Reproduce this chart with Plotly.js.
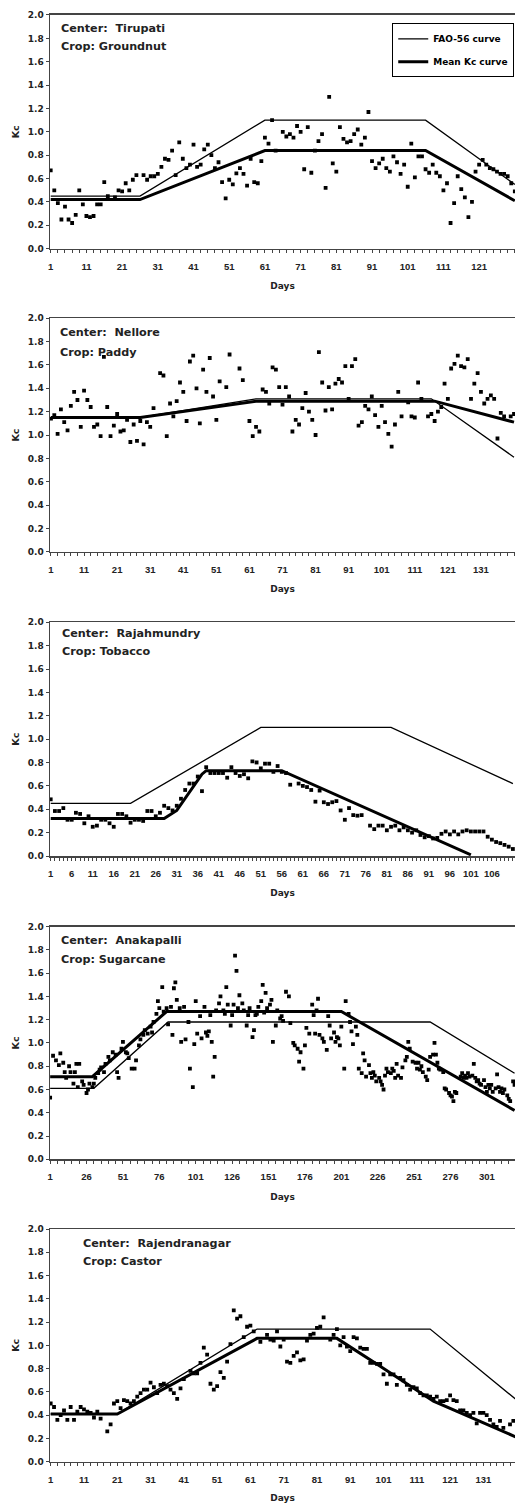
<!DOCTYPE html>
<html><head><meta charset="utf-8">
<script src="https://cdn.plot.ly/plotly-3.0.1.min.js"></script>
<style>html,body{margin:0;padding:0;background:#fff}#chart{width:515px;height:1503px}</style>
</head><body><div id="chart"></div>
<script>
// ---------------- DATA ----------------
const centers = ['Tirupati', 'Nellore', 'Rajahmundry', 'Anakapalli', 'Rajendranagar'];
const crops = ['Groundnut', 'Paddy', 'Tobacco', 'Sugarcane', 'Castor'];
const legendNames = ['FAO-56 curve', 'Mean Kc curve'];

// Tirupati – Groundnut
const tirDays = [1,2,3,4,5,6,7,8,9,10,11,12,13,14,15,16,17,19,20,21,22,23,24,25,27,28,29,30,31,32,33,34,35,36,37,38,39,40,41,42,43,44,45,46,47,48,49,50,51,52,53,54,55,56,57,58,59,60,61,62,63,64,66,67,68,69,70,71,72,73,74,75,76,77,78,79,80,81,82,83,84,85,86,87,88,89,90,91,92,93,94,95,96,97,98,99,100,101,102,103,104,105,106,107,108,109,110,111,112,113,114,115,116,117,118,119,120,121,122,123,124,125,126,127,128,129,130,131];
const tirKc = [0.67,0.50,0.39,0.25,0.36,0.25,0.22,0.29,0.50,0.38,0.28,0.27,0.28,0.38,0.38,0.57,0.45,0.44,0.50,0.49,0.56,0.50,0.59,0.63,0.63,0.59,0.62,0.62,0.64,0.70,0.77,0.76,0.84,0.63,0.91,0.77,0.69,0.72,0.89,0.70,0.72,0.85,0.89,0.80,0.69,0.74,0.57,0.43,0.59,0.55,0.645,0.69,0.64,0.54,0.77,0.57,0.56,0.75,0.95,0.90,1.10,0.84,1.00,0.96,0.98,0.95,1.05,1.00,0.68,1.04,0.65,0.84,0.92,0.98,0.52,1.30,0.73,0.66,1.04,0.94,0.91,0.92,0.98,1.02,0.89,0.95,1.17,0.75,0.69,0.73,0.77,0.69,0.66,0.79,0.74,0.64,0.72,0.53,0.90,0.61,0.79,0.79,0.68,0.65,0.72,0.65,0.62,0.50,0.56,0.22,0.39,0.62,0.51,0.44,0.27,0.40,0.66,0.72,0.76,0.72,0.69,0.68,0.66,0.64,0.64,0.62,0.56,0.49];
const tirFaoDays = [1, 26, 61, 106, 131];
const tirFaoKc = [0.45, 0.45, 1.10, 1.10, 0.55];
const tirMeanDays = [1, 26, 61, 106, 131];
const tirMeanKc = [0.42, 0.42, 0.84, 0.84, 0.41];

// Nellore – Paddy
const nelDays = [1,2,3,4,5,6,7,8,9,10,11,12,13,14,15,16,17,18,19,20,21,22,23,24,25,26,27,28,29,30,31,32,34,35,36,37,38,39,40,41,42,43,44,45,46,47,48,49,50,51,52,54,55,58,59,61,62,63,64,65,66,67,68,69,70,71,72,73,74,75,76,77,78,79,80,81,82,83,84,85,86,87,88,89,90,91,92,93,94,95,96,97,98,99,100,101,102,103,104,105,106,107,109,110,111,112,113,115,116,117,118,119,120,121,122,123,124,125,126,127,128,129,130,131,132,133,134,135,136,137,138,140,141];
const nelKc = [1.14,1.17,1.01,1.22,1.11,1.04,1.25,1.37,1.30,1.07,1.38,1.30,1.24,1.07,1.09,0.99,1.67,1.24,0.99,1.08,1.18,1.03,1.04,1.13,0.94,1.09,0.95,1.12,0.92,1.11,1.07,1.23,1.53,1.51,0.99,1.27,1.16,1.29,1.45,1.37,1.12,1.63,1.68,1.40,1.10,1.56,1.37,1.66,1.33,1.13,1.46,1.41,1.69,1.57,1.47,1.12,0.99,1.07,1.03,1.39,1.37,1.27,1.58,1.56,1.41,1.26,1.41,1.33,1.03,1.13,1.09,1.23,1.36,1.20,1.13,1.00,1.71,1.45,1.21,1.41,1.22,1.44,1.48,1.45,1.59,1.31,1.59,1.65,1.08,1.11,1.25,1.22,1.33,1.17,1.07,1.25,1.11,1.01,0.90,1.09,1.37,1.16,1.28,1.16,1.15,1.45,1.31,1.16,1.18,1.12,1.20,1.24,1.44,1.31,1.57,1.61,1.68,1.59,1.58,1.65,1.31,1.44,1.53,1.37,1.27,1.31,1.34,1.31,0.97,1.19,1.16,1.16,1.18];
const nelFaoDays = [1, 28, 63, 116, 141];
const nelFaoKc = [1.15, 1.15, 1.31, 1.31, 0.81];
const nelMeanDays = [1, 28, 63, 117, 141];
const nelMeanKc = [1.15, 1.15, 1.29, 1.29, 1.11];

// Rajahmundry – Tobacco
const rajDays = [1,2,3,4,5,6,7,8,9,10,11,12,13,14,15,16,17,18,19,20,21,22,23,24,25,26,27,28,29,30,31,32,33,34,35,36,37,38,39,40,41,42,43,44,45,46,47,48,49,50,51,52,53,54,55,56,57,58,60,61,62,63,64,65,66,67,68,69,70,71,72,73,74,75,77,78,79,80,81,82,83,84,85,86,87,88,89,90,91,92,93,94,95,96,97,98,99,100,101,102,103,104,105,106,107,108,109,110,111];
const rajKc = [0.485,0.385,0.385,0.41,0.31,0.31,0.37,0.36,0.28,0.34,0.25,0.26,0.31,0.31,0.28,0.25,0.36,0.36,0.34,0.285,0.31,0.31,0.30,0.385,0.385,0.34,0.37,0.43,0.41,0.39,0.43,0.49,0.565,0.62,0.62,0.68,0.555,0.76,0.71,0.71,0.71,0.71,0.67,0.76,0.71,0.685,0.70,0.665,0.81,0.80,0.75,0.79,0.79,0.72,0.77,0.72,0.71,0.61,0.62,0.60,0.59,0.565,0.465,0.56,0.46,0.445,0.46,0.47,0.39,0.31,0.41,0.35,0.345,0.35,0.26,0.23,0.26,0.26,0.22,0.25,0.26,0.22,0.245,0.22,0.20,0.22,0.18,0.16,0.17,0.15,0.155,0.19,0.21,0.185,0.21,0.185,0.21,0.22,0.21,0.21,0.21,0.21,0.165,0.14,0.12,0.11,0.095,0.08,0.06];
const rajFaoDays = [1, 20, 51, 82, 111];
const rajFaoKc = [0.45, 0.45, 1.10, 1.10, 0.62];
const rajMeanDays = [1, 28, 31, 34, 37, 38, 56, 101];
const rajMeanKc = [0.32, 0.32, 0.39, 0.54, 0.70, 0.73, 0.73, 0.01];

// Anakapalli – Sugarcane
const anaDays = [1,3,5,7,8,10,11,12,14,15,17,18,19,20,21,23,24,26,27,28,30,31,32,34,35,36,38,39,41,42,44,46,47,48,50,51,53,54,55,57,59,60,62,63,65,66,68,70,71,72,74,75,76,78,79,81,82,84,85,86,87,88,90,91,93,94,96,97,99,100,101,102,104,105,107,108,109,110,111,112,113,114,115,117,118,120,121,122,123,125,126,127,128,129,130,131,133,134,136,137,138,140,141,142,143,144,146,147,148,149,150,152,153,154,156,157,159,160,161,163,165,166,168,169,171,172,173,175,176,177,179,181,182,183,184,185,186,188,189,191,192,193,194,196,197,198,199,200,201,203,204,206,207,208,209,211,212,213,215,216,217,218,220,221,222,223,224,225,227,228,229,230,231,232,233,235,236,237,238,239,240,242,243,245,246,247,248,250,252,253,254,255,256,257,259,260,261,262,264,265,266,267,268,269,271,272,273,275,276,277,278,279,280,283,284,285,286,287,288,289,291,292,293,294,295,296,297,299,300,301,302,303,304,305,307,308,309,310,311,312,313,315,316,317,319,320];
const anaKc = [0.53,0.89,0.85,0.81,0.91,0.83,0.75,0.70,0.80,0.75,0.65,0.75,0.82,0.62,0.82,0.67,0.64,0.57,0.60,0.65,0.62,0.65,0.70,0.74,0.77,0.79,0.75,0.82,0.88,0.85,0.92,0.90,0.75,0.70,0.95,1.01,0.92,0.91,0.87,0.78,0.78,0.85,0.98,1.03,1.07,1.11,1.08,1.14,1.09,1.18,1.25,1.36,1.30,1.48,1.27,1.30,1.16,1.31,1.07,1.47,1.52,1.37,1.30,1.01,1.31,1.03,1.18,0.78,0.62,0.99,1.36,1.08,1.23,1.04,1.31,1.09,1.06,1.10,1.24,1.01,0.71,0.88,1.28,1.34,1.40,1.28,1.25,1.48,1.33,1.15,1.24,1.33,1.75,1.62,1.30,1.41,1.34,1.28,1.15,1.24,1.30,1.05,1.11,1.24,1.25,1.31,1.36,1.50,1.26,1.43,1.30,1.33,1.37,1.01,1.15,1.28,1.21,1.23,1.19,1.44,1.40,1.17,1.00,0.98,0.95,0.84,0.92,0.78,0.98,1.13,1.08,1.33,1.24,1.08,1.28,1.38,1.07,1.04,1.01,0.94,1.23,1.15,1.04,1.09,1.01,1.05,1.04,0.98,1.14,0.78,1.36,1.25,1.18,1.10,0.99,1.14,1.07,0.78,0.74,0.91,0.85,0.71,0.81,0.74,0.70,0.75,0.72,0.67,0.70,0.67,0.64,0.60,0.72,0.78,0.75,0.74,0.78,0.76,0.70,0.82,0.72,0.70,0.79,0.85,0.88,1.01,0.95,0.84,0.83,0.78,0.83,0.77,0.80,0.75,0.71,0.68,0.77,0.88,0.90,1.00,0.90,0.83,0.78,0.77,0.75,0.61,0.60,0.57,0.55,0.54,0.50,0.58,0.57,0.71,0.74,0.70,0.72,0.70,0.74,0.71,0.72,0.82,0.70,0.67,0.68,0.65,0.64,0.68,0.62,0.58,0.64,0.61,0.64,0.58,0.61,0.73,0.62,0.58,0.61,0.57,0.60,0.55,0.52,0.50,0.67,0.64];
const anaFaoDays = [1, 31, 82, 262, 320];
const anaFaoKc = [0.61, 0.61, 1.18, 1.18, 0.74];
const anaMeanDays = [1, 30, 81, 201, 320];
const anaMeanKc = [0.71, 0.71, 1.27, 1.27, 0.42];

// Rajendranagar – Castor
const rjnDays = [1,2,3,4,5,6,7,8,9,10,11,12,13,14,15,16,18,19,20,21,22,23,24,25,26,27,28,29,30,31,32,33,34,35,36,37,38,39,40,41,43,44,45,46,47,48,49,50,51,52,53,54,55,56,57,58,59,60,61,62,64,66,67,68,69,70,71,72,73,74,75,76,77,78,79,80,81,82,83,85,86,87,88,89,90,91,92,93,94,95,96,97,98,99,100,101,102,103,104,105,106,107,108,109,110,111,112,113,114,115,116,117,118,119,120,121,122,123,124,125,126,127,128,129,130,131,132,133,134,135,136,137,139,140];
const rjnKc = [0.50,0.47,0.36,0.40,0.44,0.36,0.47,0.36,0.43,0.47,0.45,0.43,0.42,0.38,0.43,0.37,0.26,0.32,0.50,0.52,0.46,0.53,0.52,0.50,0.52,0.56,0.59,0.62,0.62,0.68,0.64,0.59,0.66,0.67,0.65,0.62,0.59,0.54,0.63,0.71,0.78,0.76,0.76,0.85,0.98,0.92,0.67,0.62,0.65,0.77,0.72,0.86,1.01,1.30,1.23,1.25,1.07,1.16,1.17,1.12,1.03,1.09,1.05,1.04,1.12,0.99,1.05,0.86,0.85,0.91,0.94,0.87,0.88,1.04,1.09,1.10,1.15,1.16,1.24,1.05,1.09,1.14,1.00,1.07,0.99,0.95,1.07,1.06,0.98,0.97,0.97,0.85,0.85,0.84,0.84,0.75,0.67,0.75,0.75,0.66,0.72,0.70,0.66,0.62,0.64,0.63,0.59,0.57,0.57,0.56,0.54,0.56,0.52,0.52,0.53,0.57,0.53,0.52,0.44,0.44,0.42,0.40,0.42,0.33,0.42,0.42,0.40,0.36,0.32,0.30,0.35,0.29,0.32,0.35];
const rjnFaoDays = [1, 21, 63, 115, 141];
const rjnFaoKc = [0.41, 0.41, 1.14, 1.14, 0.53];
const rjnMeanDays = [1, 21, 63, 87, 100, 116, 141];
const rjnMeanKc = [0.41, 0.41, 1.06, 1.06, 0.82, 0.52, 0.21];

// x tick labels per panel
const xLabels = [
  [1,11,21,31,41,51,61,71,81,91,101,111,121],
  [1,11,21,31,41,51,61,71,81,91,101,111,121,131],
  [1,6,11,16,21,26,31,36,41,46,51,56,61,66,71,76,81,86,91,96,101,106],
  [1,26,51,76,101,126,151,176,201,226,251,276,301],
  [1,11,21,31,41,51,61,71,81,91,101,111,121,131]
];
const yTicks = [0,0.2,0.4,0.6,0.8,1.0,1.2,1.4,1.6,1.8,2.0];

// ---------------- LAYOUT / STYLE ----------------
const panels = [
  {obsX: tirDays, obsY: tirKc, faoX: tirFaoDays, faoY: tirFaoKc, meanX: tirMeanDays, meanY: tirMeanKc},
  {obsX: nelDays, obsY: nelKc, faoX: nelFaoDays, faoY: nelFaoKc, meanX: nelMeanDays, meanY: nelMeanKc},
  {obsX: rajDays, obsY: rajKc, faoX: rajFaoDays, faoY: rajFaoKc, meanX: rajMeanDays, meanY: rajMeanKc},
  {obsX: anaDays, obsY: anaKc, faoX: anaFaoDays, faoY: anaFaoKc, meanX: anaMeanDays, meanY: anaMeanKc},
  {obsX: rjnDays, obsY: rjnKc, faoX: rjnFaoDays, faoY: rjnFaoKc, meanX: rjnMeanDays, meanY: rjnMeanKc}
];
const xRanges = [[0.8,131.05],[0.7,141.3],[0.83,111.5],[0.9,320.3],[0.79,140.5]];
const tickStep = [2,2,1,5,2];
const yDomains = [[0.83453,0.99002],[0.63293,0.78822],[0.43047,0.58596],[0.22867,0.38350],[0.02748,0.18230]];
const textPos = [
  {x:0.020, y1:0.98071, y2:0.96893},
  {x:0.018, y1:0.77891, y2:0.76560},
  {x:0.021, y1:0.57864, y2:0.56640},
  {x:0.020, y1:0.37392, y2:0.36174},
  {x:0.066, y1:0.17279, y2:0.16101}
];

const boldSans = 'DejaVu Sans';
const lineCol = '#444';
const traces = [];
const layout = {
  width: 515, height: 1503,
  margin: {l: 50, r: 0, t: 0, b: 0},
  paper_bgcolor: '#fff', plot_bgcolor: '#fff',
  showlegend: true,
  legend: {x: 0.736, y: 0.9845, xanchor: 'left', yanchor: 'top',
    bordercolor: '#000', borderwidth: 1, bgcolor: '#fff',
    font: {family: boldSans, size: 9, color: '#000', weight: 'bold'},
    tracegroupgap: 4, itemwidth: 30},
  annotations: []
};

panels.forEach((p, i) => {
  const n = i === 0 ? '' : String(i + 1);
  const xa = 'x' + n, ya = 'y' + n;
  traces.push({x: p.obsX, y: p.obsY, xaxis: xa, yaxis: ya, type: 'scatter', mode: 'markers',
    marker: {symbol: 'square', size: 3.8, color: '#000'}, showlegend: false, hoverinfo: 'skip'});
  traces.push({x: p.faoX, y: p.faoY, xaxis: xa, yaxis: ya, type: 'scatter', mode: 'lines',
    name: legendNames[0], legendgroup: 'fao', line: {color: '#000', width: 1.3},
    showlegend: i === 0});
  traces.push({x: p.meanX, y: p.meanY, xaxis: xa, yaxis: ya, type: 'scatter', mode: 'lines',
    name: legendNames[1], legendgroup: 'mean', line: {color: '#000', width: 3},
    showlegend: i === 0});

  const vals = [], txt = [];
  for (let d = 1; d <= xRanges[i][1]; d += tickStep[i]) {
    vals.push(d);
    txt.push(xLabels[i].includes(d) ? String(d) : '');
  }
  xLabels[i].forEach(d => { if (!vals.includes(d)) { vals.push(d); txt.push(String(d)); } });

  layout['xaxis' + n] = {
    domain: [0, 1], anchor: ya, range: xRanges[i],
    tickmode: 'array', tickvals: vals, ticktext: txt,
    ticks: 'outside', ticklen: 3, tickwidth: 1, tickcolor: lineCol,
    showline: true, linecolor: lineCol, linewidth: 1.5, mirror: true,
    showgrid: false, zeroline: false, automargin: false,
    ticklabelstandoff: 5,
    tickfont: {family: 'Liberation Sans', size: 9.5, color: '#222', weight: 'bold'},
    title: {text: 'Days', standoff: 12, font: {family: boldSans, size: 9, color: '#222', weight: 'bold'}}
  };
  layout['yaxis' + n] = {
    domain: yDomains[i], anchor: xa, range: [0, 2],
    tickmode: 'array', tickvals: yTicks, ticktext: yTicks.map(v => v.toFixed(1)),
    ticks: 'outside', ticklen: 3, tickwidth: 1, tickcolor: lineCol,
    showline: true, linecolor: lineCol, linewidth: 1.5, mirror: false,
    showgrid: false, zeroline: false, automargin: false,
    tickfont: {family: boldSans, size: 9, color: '#222', weight: 'bold'},
    title: {text: 'Kc', standoff: 6, font: {family: boldSans, size: 9.5, color: '#222', weight: 'bold'}}
  };
  const tp = textPos[i];
  layout.annotations.push({xref: 'paper', yref: 'paper', x: tp.x, y: tp.y1, xanchor: 'left', yanchor: 'middle',
    showarrow: false, text: 'Center:\u00A0 ' + centers[i],
    font: {family: boldSans, size: 11.2, color: '#222', weight: 'bold'}});
  layout.annotations.push({xref: 'paper', yref: 'paper', x: tp.x, y: tp.y2, xanchor: 'left', yanchor: 'middle',
    showarrow: false, text: 'Crop: ' + crops[i],
    font: {family: boldSans, size: 11.2, color: '#222', weight: 'bold'}});
});

Plotly.newPlot('chart', traces, layout, {displayModeBar: false, staticPlot: true});
</script>
</body></html>
